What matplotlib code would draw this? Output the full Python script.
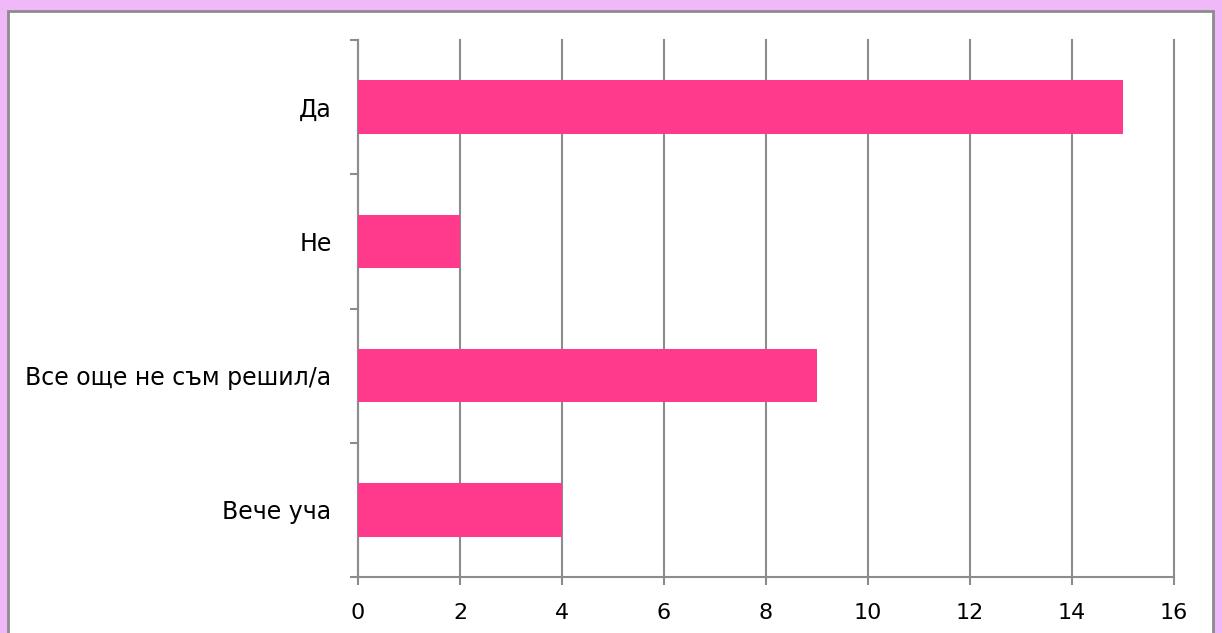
import matplotlib.pyplot as plt
from matplotlib.patches import Rectangle
from matplotlib.ticker import FixedLocator, NullFormatter

# данни
categories = ["Да", "Не", "Все още не съм решил/а", "Вече уча"]
values = [15, 2, 9, 4]
xticks = [0, 2, 4, 6, 8, 10, 12, 14, 16]

bar_color = "#FF3A8C"
line_color = "#8C8C8C"

fig = plt.figure(figsize=(12.22, 6.33), dpi=100, facecolor="#F0B8F8")

# бяла рамка
W, H = 1222, 633
fig.patches.append(Rectangle((8 / W, -0.02), (1213 - 8) / W, (633 - 11) / H + 0.02,
                             transform=fig.transFigure, facecolor="white",
                             edgecolor=line_color, linewidth=2, zorder=-5))

ax = fig.add_axes([358 / W, 1 - 577 / H, (1174 - 358) / W, (577 - 40) / H])
ax.set_zorder(2)
ax.set_facecolor("none")

y = list(range(len(categories)))
ax.barh(y, values, height=0.4, color=bar_color, zorder=3)

ax.set_xlim(0, 16)
ax.set_ylim(len(categories) - 0.5, -0.5)
ax.set_xticks(xticks)
ax.set_yticks(y)
ax.set_yticklabels(categories)
ax.yaxis.set_minor_locator(FixedLocator([i - 0.5 for i in range(len(categories) + 1)]))
ax.yaxis.set_minor_formatter(NullFormatter())

ax.tick_params(axis="y", which="major", length=0, pad=19, labelsize=17)
ax.tick_params(axis="y", which="minor", length=6, color=line_color, width=1.5)
ax.tick_params(axis="x", length=6, color=line_color, width=1.5, pad=13, labelsize=16)

ax.grid(axis="x", color=line_color, linewidth=1.5, zorder=0)
for g in ax.get_xgridlines():
    g.set_clip_on(False)
for s in ["top", "right"]:
    ax.spines[s].set_visible(False)
for s in ["left", "bottom"]:
    ax.spines[s].set_color(line_color)
    ax.spines[s].set_linewidth(1.5)

fig.savefig("out.png", dpi=100, facecolor=fig.get_facecolor())
